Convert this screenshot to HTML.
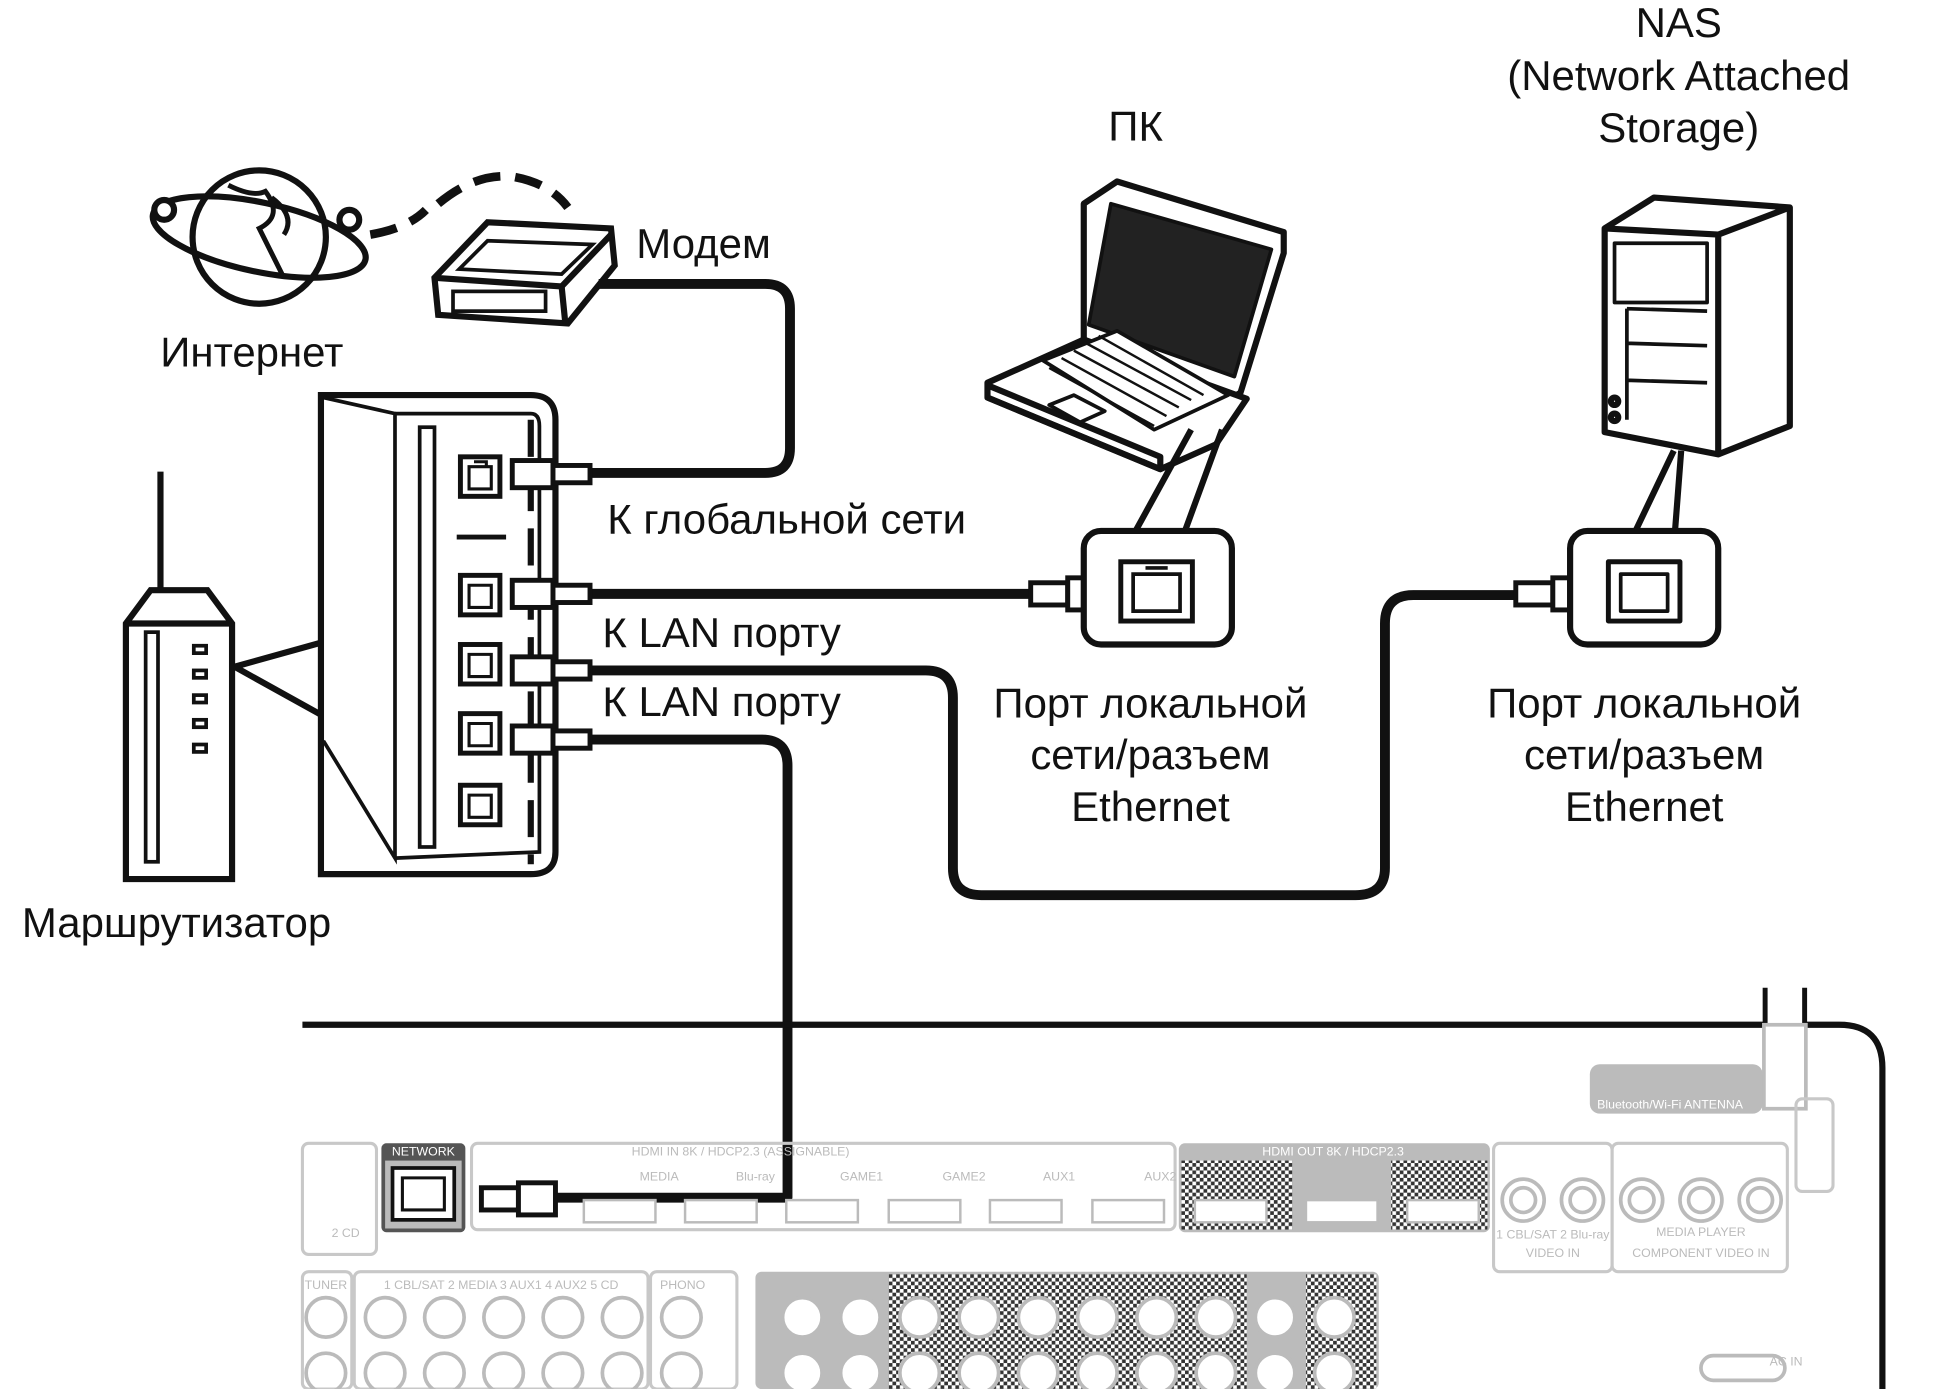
<!DOCTYPE html>
<html><head><meta charset="utf-8"><style>
html,body{margin:0;padding:0;background:#fff;width:1933px;height:1389px;overflow:hidden}
svg{display:block}
text{font-family:"Liberation Sans",sans-serif}
</style></head><body>
<svg width="1933" height="1389" viewBox="0 0 1566 1125" preserveAspectRatio="none" xmlns="http://www.w3.org/2000/svg">
<defs>
<pattern id="chk" width="6" height="6" patternUnits="userSpaceOnUse">
<rect width="6" height="6" fill="#fff"/><rect width="3" height="3" fill="#333"/><rect x="3" y="3" width="3" height="3" fill="#333"/>
</pattern>
</defs>
<g font-size="34" fill="#111" text-anchor="middle">
<text x="1360" y="30">NAS</text>
<text x="1360" y="73">(Network Attached</text>
<text x="1360" y="115">Storage)</text>
<text x="920" y="114">ПК</text>
<text x="570" y="209">Модем</text>
<text x="204" y="297">Интернет</text>
<text x="143" y="759">Маршрутизатор</text>
<text x="932" y="581">Порт локальной</text>
<text x="932" y="623">сети/разъем</text>
<text x="932" y="665">Ethernet</text>
<text x="1332" y="581">Порт локальной</text>
<text x="1332" y="623">сети/разъем</text>
<text x="1332" y="665">Ethernet</text>
</g>
<g font-size="34" fill="#111">
<text x="492" y="432">К глобальной сети</text>
<text x="488" y="524">К LAN порту</text>
<text x="488" y="580">К LAN порту</text>
</g>

<!-- globe -->
<g fill="none" stroke="#111" stroke-width="5">
<circle cx="210" cy="192" r="54" fill="#fff"/>
<ellipse cx="210" cy="192" rx="88" ry="28" transform="rotate(12 210 192)"/>
<circle cx="133" cy="170" r="8" fill="#fff"/><circle cx="283" cy="178" r="8" fill="#fff"/>
<path d="M185 150 q20 10 30 5 q15 20 -5 30 q10 20 20 40 M220 160 q20 15 10 30" stroke-width="4"/>
<path d="M300 190 q30 -5 45 -20 M355 165 q30 -25 60 -22 q30 5 45 25" stroke-dasharray="22 12" stroke-width="7"/>
</g>
<!-- modem -->
<g stroke="#111" stroke-width="5" fill="#fff">
<path d="M352 225 L395 180 L495 185 L498 215 L460 262 L355 255 Z"/>
<path d="M352 225 L455 232 L495 190" fill="none"/>
<path d="M455 232 L458 262" fill="none"/>
<path d="M395 195 L480 198 L455 222 L372 218 Z" fill="none" stroke-width="3"/>
<rect x="367" y="236" width="75" height="16" fill="none" stroke-width="3"/>
</g>
<!-- router -->
<g stroke="#111" stroke-width="5" fill="#fff">
<line x1="130" y1="382" x2="130" y2="488"/>
<path d="M102 505 L122 478 L168 478 L188 505 L188 712 L102 712 Z"/>
<line x1="102" y1="505" x2="188" y2="505"/>
<rect x="118" y="512" width="10" height="186" stroke-width="3"/>
<g stroke-width="3"><rect x="157" y="523" width="10" height="6"/><rect x="157" y="543" width="10" height="6"/><rect x="157" y="563" width="10" height="6"/><rect x="157" y="583" width="10" height="6"/><rect x="157" y="603" width="10" height="6"/></g>
<path d="M190 540 L262 520 L262 580 Z" stroke="none"/>
<path d="M190 540 L262 520 M190 540 L262 580" fill="none"/>
</g>
<!-- router back zoom -->
<g stroke="#111" fill="none">
<path d="M260 320 L430 320 Q450 320 450 340 L450 690 Q450 708 430 708 L260 708 Z" stroke-width="5" fill="#fff"/>
<path d="M320 335 L430 335 Q437 335 437 345 L437 690 L320 695" stroke-width="3"/>
<path d="M262 322 L320 335 L320 695 L262 600" stroke-width="3"/>
<rect x="340" y="346" width="12" height="340" stroke-width="3"/>
<line x1="370" y1="435" x2="410" y2="435" stroke-width="4"/>
<g stroke-width="4" fill="#fff">
<rect x="373" y="370" width="32" height="32"/><rect x="373" y="466" width="32" height="32"/><rect x="373" y="522" width="32" height="32"/><rect x="373" y="578" width="32" height="32"/><rect x="373" y="636" width="32" height="32"/>
</g>
<g stroke-width="2.5"><path d="M380 378 h18 v18 h-18 z M384 374 h10 v4"/><path d="M380 474 h18 v18 h-18 z"/><path d="M380 530 h18 v18 h-18 z"/><path d="M380 586 h18 v18 h-18 z"/><path d="M380 644 h18 v18 h-18 z"/></g>
<path d="M430 340 V700" stroke-width="5" stroke-dasharray="30 14"/>
</g>
<!-- cables -->
<g stroke="#111" stroke-width="8" fill="none" stroke-linejoin="round">
<path d="M478 383 L620 383 Q640 383 640 363 L640 250 Q640 230 620 230 L485 230"/>
<path d="M478 481 L838 481"/>
<path d="M478 543 L750 543 Q772 543 772 565 L772 703 Q772 725 795 725 L1098 725 Q1122 725 1122 703 L1122 505 Q1122 482 1145 482 L1230 482"/>
<path d="M478 599 L617 599 Q638 599 638 620 L638 970 L450 970"/>
</g>
<!-- plugs -->
<g stroke="#111" stroke-width="4" fill="#fff">
<rect x="415" y="373" width="33" height="22"/><rect x="448" y="377" width="30" height="14"/>
<rect x="415" y="470" width="33" height="22"/><rect x="448" y="474" width="30" height="14"/>
<rect x="415" y="532" width="33" height="22"/><rect x="448" y="536" width="30" height="14"/>
<rect x="415" y="588" width="33" height="22"/><rect x="448" y="592" width="30" height="14"/>
<rect x="835" y="472" width="30" height="18"/><rect x="865" y="468" width="28" height="26"/>
<rect x="1228" y="472" width="30" height="18"/><rect x="1258" y="468" width="28" height="26"/>
</g>
<!-- PC -->
<g stroke="#111" stroke-width="5" fill="#fff" stroke-linejoin="round">
<path d="M878 165 L905 147 L1040 188 L1040 205 L1005 318 L985 330 L878 288 Z"/>
<path d="M900 165 L1030 202 L1000 305 L882 263 Z" fill="#222" stroke-width="3"/>
<path d="M800 310 L878 275 L1010 323 L985 360 L940 380 L800 322 Z"/>
<path d="M800 322 L940 380 L940 370 L800 312" fill="none"/>
<path d="M845 292 L905 268 L995 320 L935 348 Z" fill="#fff" stroke-width="3"/>
<path d="M850 298 L935 345 M860 290 L945 337 M870 284 L955 330 M880 278 L965 324 M890 272 L975 320" stroke-width="2"/>
<path d="M850 328 L870 320 L895 333 L875 342 Z" stroke-width="3"/>
</g>
<g stroke="#111" stroke-width="5" fill="#fff">
<path d="M920 430 L965 348 M960 430 L990 348" fill="none"/>
<rect x="878" y="430" width="120" height="92" rx="14"/>
<rect x="908" y="455" width="58" height="48" stroke-width="4"/>
<path d="M918 465 h38 v30 h-38 z M928 460 h18" fill="none" stroke-width="3"/>
</g>
<!-- NAS -->
<g stroke="#111" stroke-width="5" fill="#fff" stroke-linejoin="round">
<path d="M1300 185 L1340 160 L1450 168 L1450 345 L1392 368 L1300 350 Z"/>
<path d="M1300 185 L1392 190 L1450 168 M1392 190 L1392 368" fill="none"/>
<rect x="1308" y="197" width="75" height="48" stroke-width="3"/>
<path d="M1318 250 L1383 252 M1318 278 L1383 280 M1318 308 L1383 310 M1318 250 V340" fill="none" stroke-width="3"/>
<circle cx="1308" cy="325" r="3"/><circle cx="1308" cy="338" r="3"/>
<path d="M1325 430 L1356 365 M1357 430 L1362 365" fill="none"/>
<rect x="1272" y="430" width="120" height="92" rx="14"/>
<rect x="1303" y="455" width="58" height="48" stroke-width="4"/>
<path d="M1313 465 h38 v30 h-38 z" fill="none" stroke-width="3"/>
</g>
<!-- receiver -->
<g>
<path d="M245 830 L1430 830 M1462 830 L1490 830 Q1525 830 1525 865 L1525 1125" stroke="#111" stroke-width="5" fill="none"/>
<path d="M1430 800 V830 M1462 800 V830" stroke="#111" stroke-width="4"/>
<rect x="1429" y="830" width="34" height="68" fill="#fff" stroke="#bbb" stroke-width="3"/>
<rect x="1288" y="862" width="140" height="40" rx="8" fill="#bbb"/>
<text x="1353" y="898" font-size="10" fill="#fff" text-anchor="middle">Bluetooth/Wi-Fi ANTENNA</text>
<g fill="none" stroke="#c8c8c8" stroke-width="2.5">
<rect x="1455" y="890" width="30" height="75" rx="5"/>
<rect x="245" y="926" width="60" height="90" rx="5"/>
<rect x="382" y="926" width="570" height="70" rx="5"/>
<rect x="1210" y="926" width="96" height="104" rx="5"/>
<rect x="1306" y="926" width="142" height="104" rx="5"/>
<rect x="245" y="1030" width="40" height="95" rx="5"/>
<rect x="287" y="1030" width="238" height="95" rx="5"/>
<rect x="527" y="1030" width="70" height="95" rx="5"/>
</g>
<rect x="955" y="926" width="252" height="72" rx="5" fill="#bbb"/>
<rect x="957" y="940" width="90" height="56" fill="url(#chk)"/>
<rect x="1127" y="940" width="78" height="56" fill="url(#chk)"/>
<text x="1080" y="936" font-size="10" fill="#fff" text-anchor="middle">HDMI OUT 8K / HDCP2.3</text>
<rect x="612" y="1030" width="505" height="95" rx="5" fill="#bbb"/>
<rect x="720" y="1032" width="290" height="93" fill="url(#chk)"/>
<rect x="1058" y="1032" width="57" height="93" fill="url(#chk)"/>
<text x="600" y="936" font-size="10" fill="#bbb" text-anchor="middle">HDMI IN 8K / HDCP2.3  (ASSIGNABLE)</text>
<g fill="#fff" stroke="#bbb" stroke-width="2">
<rect x="473" y="972" width="58" height="18"/><rect x="555" y="972" width="58" height="18"/><rect x="637" y="972" width="58" height="18"/><rect x="720" y="972" width="58" height="18"/><rect x="802" y="972" width="58" height="18"/><rect x="885" y="972" width="58" height="18"/>
<rect x="968" y="972" width="58" height="18"/><rect x="1058" y="972" width="58" height="18"/><rect x="1140" y="972" width="58" height="18"/>
</g>
<g font-size="10" fill="#bbb" text-anchor="middle">
<text x="534" y="956">MEDIA</text><text x="612" y="956">Blu-ray</text><text x="698" y="956">GAME1</text><text x="781" y="956">GAME2</text><text x="858" y="956">AUX1</text><text x="940" y="956">AUX2</text>
<text x="1258" y="1003">1 CBL/SAT  2 Blu-ray</text><text x="1378" y="1001">MEDIA PLAYER</text>
<text x="1258" y="1018">VIDEO IN</text><text x="1378" y="1018">COMPONENT VIDEO IN</text>
<text x="1447" y="1106">AC IN</text>
<text x="264" y="1044">TUNER</text><text x="406" y="1044">1 CBL/SAT  2 MEDIA  3 AUX1  4 AUX2  5 CD</text><text x="553" y="1044">PHONO</text>
<text x="280" y="1002">2 CD</text>
</g>
<g fill="none" stroke="#bbb" stroke-width="3">
<circle cx="1234" cy="972" r="17"/><circle cx="1234" cy="972" r="10"/>
<circle cx="1282" cy="972" r="17"/><circle cx="1282" cy="972" r="10"/>
<circle cx="1330" cy="972" r="17"/><circle cx="1330" cy="972" r="10"/>
<circle cx="1378" cy="972" r="17"/><circle cx="1378" cy="972" r="10"/>
<circle cx="1426" cy="972" r="17"/><circle cx="1426" cy="972" r="10"/>
<circle cx="264" cy="1067" r="16"/><circle cx="312" cy="1067" r="16"/><circle cx="360" cy="1067" r="16"/><circle cx="408" cy="1067" r="16"/><circle cx="456" cy="1067" r="16"/><circle cx="504" cy="1067" r="16"/><circle cx="552" cy="1067" r="16"/>
<circle cx="264" cy="1112" r="16"/><circle cx="312" cy="1112" r="16"/><circle cx="360" cy="1112" r="16"/><circle cx="408" cy="1112" r="16"/><circle cx="456" cy="1112" r="16"/><circle cx="504" cy="1112" r="16"/><circle cx="552" cy="1112" r="16"/>
<rect x="1378" y="1098" width="68" height="20" rx="10"/>
</g>
<g fill="#fff" stroke="#bbb" stroke-width="3">
<circle cx="650" cy="1067" r="16"/><circle cx="697" cy="1067" r="16"/><circle cx="745" cy="1067" r="16"/><circle cx="793" cy="1067" r="16"/><circle cx="841" cy="1067" r="16"/><circle cx="889" cy="1067" r="16"/><circle cx="937" cy="1067" r="16"/><circle cx="985" cy="1067" r="16"/><circle cx="1033" cy="1067" r="16"/><circle cx="1081" cy="1067" r="16"/>
<circle cx="650" cy="1112" r="16"/><circle cx="697" cy="1112" r="16"/><circle cx="745" cy="1112" r="16"/><circle cx="793" cy="1112" r="16"/><circle cx="841" cy="1112" r="16"/><circle cx="889" cy="1112" r="16"/><circle cx="937" cy="1112" r="16"/><circle cx="985" cy="1112" r="16"/><circle cx="1033" cy="1112" r="16"/><circle cx="1081" cy="1112" r="16"/>
</g>
<!-- network port -->
<rect x="309" y="926" width="68" height="72" rx="4" fill="#555"/>
<rect x="312" y="940" width="62" height="55" fill="#bbb"/>
<text x="343" y="936" font-size="10" fill="#fff" text-anchor="middle">NETWORK</text>
<rect x="318" y="946" width="50" height="42" fill="#fff" stroke="#111" stroke-width="3"/>
<path d="M326 954 h34 v26 h-34 z" fill="none" stroke="#111" stroke-width="2.5"/>
<g stroke="#111" stroke-width="4" fill="#fff">
<rect x="390" y="962" width="30" height="18"/><rect x="420" y="958" width="30" height="26"/>
</g>
</g>
</svg>
</body></html>
